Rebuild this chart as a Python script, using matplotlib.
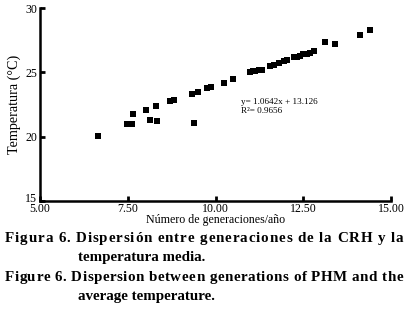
import matplotlib.pyplot as plt
import matplotlib.transforms as mtransforms

gen = [6.66, 7.48, 7.63, 7.66, 8.02, 8.14, 8.30, 8.34, 8.70, 8.82, 9.34, 9.40, 9.51, 9.76, 9.87,
       10.25, 10.51, 10.98, 11.06, 11.13, 11.25, 11.33, 11.55, 11.67, 11.81, 11.96, 12.04,
       12.24, 12.32, 12.41, 12.50, 12.60, 12.69, 12.79, 13.12, 13.39, 14.10, 14.40]
temp = [20.1, 21.0, 21.0, 21.8, 22.1, 21.3, 22.4, 21.2, 22.8, 22.9, 23.3, 21.1, 23.5, 23.8, 23.9,
        24.2, 24.5, 25.05, 25.1, 25.15, 25.2, 25.2, 25.5, 25.6, 25.7, 25.9, 26.0,
        26.2, 26.2, 26.3, 26.4, 26.45, 26.55, 26.7, 27.4, 27.2, 27.9, 28.3]
xticks = [5.0, 7.5, 10.0, 12.5, 15.0]
xtick_labels = ['5.00', '7.50', '10.00', '12.50', '15.00']
yticks = [15, 20, 25, 30]

plt.rcParams['font.family'] = 'Liberation Serif'

W, H = 407, 311
fig = plt.figure(figsize=(4.07, 3.11), dpi=100)
ax = fig.add_axes([0.098, 0.353, 0.863, 0.621])
ax.plot(gen, temp, 's', color='black', markersize=4.6, markeredgewidth=0)
ax.set_xlim(5, 15)
ax.set_ylim(15, 30)
ax.set_xticks(xticks)
ax.set_xticklabels(xtick_labels)
ax.set_yticks(yticks)
ax.tick_params(direction='in', length=3.5, width=2, labelsize=8.6)
ax.tick_params(axis='x', pad=1.5)
ax.tick_params(axis='y', pad=2)
for s in ['top', 'right']:
    ax.spines[s].set_visible(False)
for s in ['left', 'bottom']:
    ax.spines[s].set_linewidth(1.8)
# lift the "15" a little so it clears "5.00"
lbl = ax.get_yticklabels()[0]
lbl.set_transform(lbl.get_transform() + mtransforms.ScaledTranslation(0, 4 / 100, fig.dpi_scale_trans))
ax.set_xlabel('Número de generaciones/año', fontsize=8.6, labelpad=-1)
ax.set_ylabel('Temperatura (°C)', fontsize=10.2, labelpad=3)
ax.text(10.72, 22.35, 'y= 1.0642x + 13.126\nR²= 0.9656', fontsize=6.6, va='center', linespacing=1.1)


def justified(text, x0, x1, ybase, size):
    # letter by letter, spreading the spare room over every gap
    rend = fig.canvas.get_renderer()
    items = [fig.text(0, 1 - ybase / H, c, fontsize=size, fontweight='bold', va='baseline') for c in text]
    widths = []
    for t, c in zip(items, text):
        if c == ' ':
            t.set_text('a a')
            w = t.get_window_extent(rend).width
            t.set_text('aa')
            w -= t.get_window_extent(rend).width
            t.set_text('')
            widths.append(w)
        else:
            widths.append(t.get_window_extent(rend).width)
    gap = (x1 - x0 - sum(widths)) / (len(text) - 1)
    x = x0
    for t, w in zip(items, widths):
        t.set_x(x / W)
        x += w + gap


cap = 10.8
justified('Figura 6. Dispersión entre generaciones de la CRH y la', 5, 403, 242, cap)
fig.text(78 / W, 1 - 261 / H, 'temperatura media.', fontsize=cap, fontweight='bold', va='baseline')
justified('Figure 6. Dispersion between generations of PHM and the', 5, 403, 281, cap)
fig.text(78 / W, 1 - 300 / H, 'average temperature.', fontsize=cap, fontweight='bold', va='baseline')

fig.savefig('out.png', dpi=100)
